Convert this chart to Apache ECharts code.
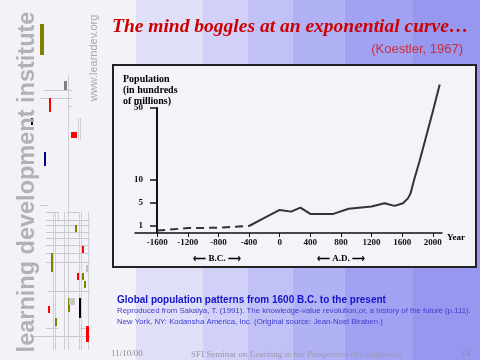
<!DOCTYPE html>
<html>
<head>
<meta charset="utf-8">
<script src="https://cdn.jsdelivr.net/npm/echarts@6/dist/echarts.min.js"></script>
<style>html,body{margin:0;padding:0;background:#f2f2f8}#c{width:480px;height:360px}</style>
</head>
<body>
<div id="c"></div>
<script>
// ---- data (population in hundreds of millions) ----
const bcYears = [-1600, -1200, -800, -400];
const bcPop   = [0.35, 0.7, 0.75, 1.0];
const adYears = [-400, -200, 0, 150, 270, 400, 700, 900, 1200, 1370, 1500, 1610, 1675, 1710, 1755, 1830, 2000, 2090];
const adPop   = [1.0, 2.4, 3.8, 3.5, 4.2, 3.1, 3.1, 4.0, 4.4, 4.95, 4.5, 4.95, 6.0, 7.1, 10, 21, 48, 63];
const xTickYears = [-1600, -1200, -800, -400, 0, 400, 800, 1200, 1600, 2000];
const yTickVals = [1, 5, 10, 50];
// hand-drawn (non-linear) vertical scale of the original figure
const yKnotVal = [0, 1, 5, 10, 50];
const yKnotPos = [0, 7, 30, 53, 125];
const xOrigin = -1600; // year at which the vertical axis stands

function toPos(v) {
  for (let i = 1; i < yKnotVal.length; i++) {
    if (v <= yKnotVal[i]) {
      const t = (v - yKnotVal[i-1]) / (yKnotVal[i] - yKnotVal[i-1]);
      return yKnotPos[i-1] + t * (yKnotPos[i] - yKnotPos[i-1]);
    }
  }
  const n = yKnotVal.length - 1;
  const slope = (yKnotPos[n] - yKnotPos[n-1]) / (yKnotVal[n] - yKnotVal[n-1]);
  return yKnotPos[n] + (v - yKnotVal[n]) * slope;
}
const yTickPos = yTickVals.map(toPos);
const xTickPos = xTickYears.map(y => y - xOrigin);
const bcData = bcYears.map((y, i) => [y - xOrigin, toPos(bcPop[i])]);
const adData = adYears.map((y, i) => [y - xOrigin, toPos(adPop[i])]);

const serif = 'Liberation Serif';
const sans = 'Liberation Sans';

function rect(x, y, w, h, fill, z) {
  return {type: 'rect', shape: {x, y, width: w, height: h}, style: {fill}, z: z || 1, silent: true};
}
function hl(x1, x2, y) { return {type: 'line', shape: {x1, y1: y + 0.5, x2, y2: y + 0.5}, style: {stroke: '#c8c8cc', lineWidth: 1}, z: 1, silent: true}; }
function vl(x, y1, y2) { return {type: 'line', shape: {x1: x + 0.5, y1, x2: x + 0.5, y2}, style: {stroke: '#cfcfd4', lineWidth: 1}, z: 1, silent: true}; }

const stripes = [
  [0, 136, '#f2f2f8'], [136, 203, '#dfdff8'], [203, 248, '#d0d0f8'], [248, 293, '#c1c1f7'],
  [293, 345, '#b1b1f5'], [345, 413, '#a2a2f4'], [413, 480, '#9797f0']
];
const graphics = [];
stripes.forEach(s => graphics.push(rect(s[0], 0, s[1] - s[0], 360, s[2], -5)));
// chart box
graphics.push({type: 'rect', shape: {x: 113, y: 65, width: 363, height: 202}, style: {fill: '#f3f3f8', stroke: '#222', lineWidth: 2}, z: -4, silent: true});

// left decoration lines
[vl(68, 75, 350), hl(44, 72, 90), hl(40, 72, 98), hl(68, 72, 106), hl(40, 48, 205),
 hl(46, 58, 212), hl(67, 80, 212), hl(46, 90, 220), hl(46, 90, 225), hl(46, 90, 232), hl(46, 90, 238),
 hl(46, 90, 245), hl(46, 90, 253), hl(46, 90, 262), hl(48, 90, 291), hl(46, 58, 328), hl(79, 90, 328), hl(31, 90, 336),
 vl(53, 212, 350), vl(55, 212, 350), vl(64, 212, 350), vl(79, 212, 350), vl(81, 212, 350), vl(88, 212, 350), vl(58, 212, 222),
 vl(78, 118, 140), vl(80, 118, 140)
].forEach(g => graphics.push(g));
// left decoration bars
[[40, 24, 4, 31, '#808000'], [64, 81, 3, 9, '#808080'], [49, 98, 2, 14, '#ff0000'], [31, 118, 2, 7, '#000000'],
 [71, 132, 6, 6, '#ff0000'], [44, 152, 2, 14, '#000080'],
 [75, 225, 2, 7, '#808000'], [82, 246, 2, 7, '#ff0000'], [51, 253, 2, 19, '#808000'], [77, 273, 2, 7, '#ff0000'],
 [82, 273, 2, 7, '#808000'], [84, 281, 2, 7, '#808000'], [86, 265, 2, 7, '#c0c0c0'], [68, 298, 2, 14, '#808000'],
 [69, 298, 6, 7, '#c8c8c8'], [79, 298, 2, 20, '#000000'], [48, 306, 2, 7, '#ff0000'], [55, 318, 2, 8, '#808000'],
 [86, 326, 3, 16, '#ff0000']
].forEach(r => graphics.push(rect(r[0], r[1], r[2], r[3], r[4], 2)));

function txt(x, y, text, font, extra) {
  return Object.assign({type: 'text', x, y, silent: true, z: 5,
    style: Object.assign({text, fill: '#000', fontFamily: serif, fontSize: 10, textBaseline: 'middle', textAlign: 'left'}, font)}, extra || {});
}
// vertical branding
graphics.push(txt(16, 182, 'learning development institute', {fontFamily: sans, fontWeight: 'bold', fontSize: 23.5, fill: '#b2b2b6', textAlign: 'center'}, {rotation: Math.PI / 2}));
graphics.push(txt(88, 58, 'www.learndev.org', {fontFamily: sans, fontSize: 11, fill: '#a8a8ac', textAlign: 'center'}, {rotation: Math.PI / 2}));
// headings
graphics.push(txt(112, 17, 'The mind boggles at an exponential curve…', {fontFamily: serif, fontStyle: 'italic', fontWeight: 'bold', fontSize: 19.5, fill: '#cc0000'}));
graphics.push(txt(463, 43, '(Koestler, 1967)', {fontFamily: sans, fontSize: 13, fill: '#c83038', textAlign: 'right'}));
// chart annotations
graphics.push(txt(123, 74.5, 'Population', {fontWeight: 'bold', fontSize: 10}));
graphics.push(txt(123, 85.5, '(in hundreds', {fontWeight: 'bold', fontSize: 10}));
graphics.push(txt(123, 96.5, 'of millions)', {fontWeight: 'bold', fontSize: 10}));
graphics.push(txt(447, 233, 'Year', {fontWeight: 'bold', fontSize: 9}));
graphics.push(txt(217, 254, '⟵ B.C. ⟶', {fontWeight: 'bold', fontSize: 9, textAlign: 'center'}));
graphics.push(txt(341, 254, '⟵ A.D. ⟶', {fontWeight: 'bold', fontSize: 9, textAlign: 'center'}));
// caption
graphics.push(txt(117, 295, 'Global population patterns from 1600 B.C. to the present', {fontFamily: sans, fontWeight: 'bold', fontSize: 10, fill: '#1414c8'}));
graphics.push(txt(117, 307, 'Reproduced from Sakaiya, T. (1991). The knowledge-value revolution,or, a history of the future (p.111).', {fontFamily: sans, fontSize: 7.8, fill: '#3c3cd0'}));
graphics.push(txt(117, 318, 'New York, NY: Kodansha America, Inc. (Original source: Jean-Noel Biraben.)', {fontFamily: sans, fontSize: 7.8, fill: '#3c3cd0'}));
// footer
graphics.push(txt(111, 349, '11/10/00', {fontSize: 9, fill: '#8c8c94'}));
graphics.push(txt(297, 350, 'SFI Seminar on Learning in the Perspective of Complexity', {fontSize: 9, fill: '#9a9aa8', textAlign: 'center'}));
graphics.push(txt(466, 349, '14', {fontSize: 9, fill: '#8888b0', textAlign: 'center'}));

const chart = echarts.init(document.getElementById('c'), null, {renderer: 'canvas'});
chart.setOption({
  backgroundColor: '#f2f2f8',
  animation: false,
  graphic: graphics,
  grid: {left: 135, right: 38, top: 108, bottom: 127, containLabel: false},
  xAxis: {
    type: 'value', min: -290, max: 3720,
    axisLine: {show: true, onZero: false, lineStyle: {color: '#111', width: 1.5}},
    axisTick: {show: true, customValues: xTickPos, length: 4, lineStyle: {color: '#111', width: 1}},
    axisLabel: {show: true, customValues: xTickPos, margin: 5, fontFamily: serif, fontWeight: 'bold', fontSize: 9, color: '#111',
      formatter: v => String(v + xOrigin)},
    splitLine: {show: false}
  },
  yAxis: {
    type: 'value', min: 0, max: 125, offset: -22,
    axisLine: {show: true, onZero: false, lineStyle: {color: '#111', width: 2}},
    axisTick: {show: true, customValues: yTickPos, length: 7, lineStyle: {color: '#111', width: 1.5}},
    axisLabel: {show: true, customValues: yTickPos, margin: 14, fontFamily: serif, fontWeight: 'bold', fontSize: 9, color: '#111',
      formatter: v => { const i = yTickPos.findIndex(p => Math.abs(p - v) < 0.01); return i >= 0 ? String(yTickVals[i]) : ''; }},
    splitLine: {show: false}
  },
  series: [
    {type: 'line', data: bcData, symbol: 'none', clip: false, lineStyle: {color: '#333', width: 2, type: [8, 5]}, z: 3},
    {type: 'line', data: adData, symbol: 'none', clip: false, lineStyle: {color: '#333', width: 2}, z: 3}
  ]
});
</script>
</body>
</html>
